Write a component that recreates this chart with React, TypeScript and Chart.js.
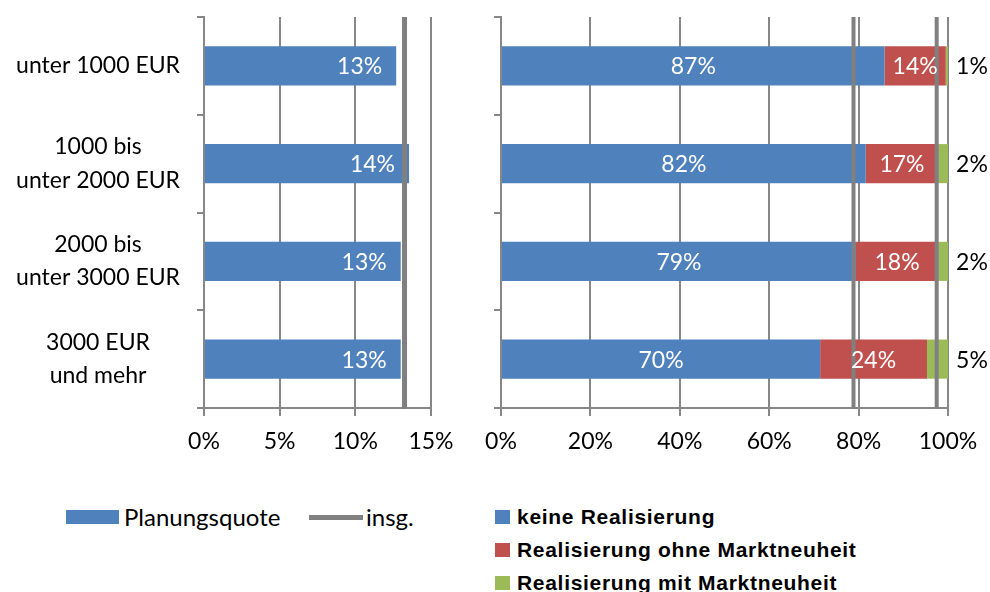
import React, { useEffect, useRef } from 'react';
import { Chart, registerables } from 'chart.js';

Chart.register(...registerables);

// ---- data ----
const categories = [
  ['unter 1000 EUR'],
  ['1000 bis', 'unter 2000 EUR'],
  ['2000 bis', 'unter 3000 EUR'],
  ['3000 EUR', 'und mehr'],
];
const planungsquote = [12.7, 13.55, 13.0, 13.0];
const planungsquoteLabels = ['13%', '14%', '13%', '13%'];
const insgPlanung = [13.25];

const keineRealisierung = [85.8, 81.6, 79.4, 71.4];
const ohneMarktneuheit = [13.7, 16.2, 18.4, 23.9];
const mitMarktneuheit = [0.5, 2.2, 2.2, 4.7];
const keineLabels = ['87%', '82%', '79%', '70%'];
const ohneLabels = ['14%', '17%', '18%', '24%'];
const mitLabels = ['1%', '2%', '2%', '5%'];
const insgRealisierung = [78.86, 97.47];

const leftAxis = { min: 0, max: 15, step: 5 };
const rightAxis = { min: 0, max: 100, step: 20 };

const BLUE = '#4F81BD';
const RED = '#C0504D';
const GREEN = '#9BBB59';
const LINE_GRAY = '#808080';
const GRID = '#878787';
const FONT = 'Lato';

const pct = (v: any) => v + '%';

function xScale(min: number, max: number, step: number) {
  return {
    type: 'linear',
    position: 'bottom',
    min,
    max,
    ticks: {
      stepSize: step,
      callback: pct,
      color: '#000',
      font: { family: FONT, size: 23 },
      padding: 12,
      maxRotation: 0,
    },
    grid: { color: GRID, lineWidth: 2, tickLength: 8 },
    border: { color: GRID, width: 2 },
    afterFit: (s: any) => {
      s.height = 62;
      s.paddingLeft = 0;
      s.paddingRight = 0;
    },
  };
}

function vLinesPlugin(values: number[], width: number) {
  return {
    id: 'insgLines',
    afterDatasetsDraw(chart: any) {
      const ctx = chart.ctx;
      const xs = chart.scales.x;
      const { top, bottom } = chart.chartArea;
      ctx.save();
      ctx.strokeStyle = LINE_GRAY;
      ctx.lineWidth = width;
      values.forEach((v) => {
        const px = xs.getPixelForValue(v);
        ctx.beginPath();
        ctx.moveTo(px, top);
        ctx.lineTo(px, bottom + 1);
        ctx.stroke();
      });
      ctx.restore();
    },
  };
}

function App() {
  const leftRef = useRef<HTMLCanvasElement | null>(null);
  const rightRef = useRef<HTMLCanvasElement | null>(null);

  useEffect(() => {
    const leftLabelsPlugin = {
      id: 'leftLabels',
      afterDatasetsDraw(chart: any) {
        const meta = chart.getDatasetMeta(0);
        const ctx = chart.ctx;
        ctx.save();
        ctx.font = `23px ${FONT}`;
        ctx.fillStyle = '#fff';
        ctx.textAlign = 'right';
        ctx.textBaseline = 'middle';
        meta.data.forEach((bar: any, i: number) => {
          ctx.fillText(planungsquoteLabels[i], bar.x - 14, bar.y + 1);
        });
        ctx.restore();
      },
    };

    const left = new Chart(leftRef.current as HTMLCanvasElement, {
      type: 'bar',
      data: {
        labels: categories as any,
        datasets: [
          {
            label: 'Planungsquote',
            data: planungsquote,
            backgroundColor: BLUE,
            barPercentage: 0.4,
            categoryPercentage: 1,
          },
        ],
      },
      options: {
        indexAxis: 'y',
        responsive: false,
        animation: false,
        layout: { padding: { left: 0, top: 17, right: 39, bottom: 0 } },
        plugins: { legend: { display: false }, tooltip: { enabled: false } },
        scales: {
          x: xScale(leftAxis.min, leftAxis.max, leftAxis.step) as any,
          y: {
            type: 'category',
            position: 'left',
            ticks: {
              color: '#000',
              font: { family: FONT, size: 23, lineHeight: 1.45 },
              crossAlign: 'center',
              padding: 17,
            },
            grid: { drawOnChartArea: false, color: GRID, lineWidth: 2, tickLength: 7, offset: true },
            border: { color: GRID, width: 2 },
            afterFit: (s: any) => {
              s.width = 204;
              s.paddingTop = 0;
              s.paddingBottom = 0;
            },
          } as any,
        },
      },
      plugins: [vLinesPlugin(insgPlanung, 5), leftLabelsPlugin],
    });

    const rightLabelsPlugin = {
      id: 'rightLabels',
      afterDatasetsDraw(chart: any) {
        const ctx = chart.ctx;
        ctx.save();
        ctx.font = `23px ${FONT}`;
        ctx.textBaseline = 'middle';
        ctx.textAlign = 'center';
        const m0 = chart.getDatasetMeta(0);
        const m1 = chart.getDatasetMeta(1);
        const m2 = chart.getDatasetMeta(2);
        ctx.fillStyle = '#fff';
        m0.data.forEach((bar: any, i: number) => {
          ctx.fillText(keineLabels[i], (bar.x + bar.base) / 2, bar.y + 1);
        });
        m1.data.forEach((bar: any, i: number) => {
          ctx.fillText(ohneLabels[i], (bar.x + bar.base) / 2, bar.y + 1);
        });
        ctx.fillStyle = '#000';
        m2.data.forEach((bar: any, i: number) => {
          ctx.fillText(mitLabels[i], chart.chartArea.right + 24, bar.y + 1);
        });
        ctx.restore();
      },
    };

    const barDs = (label: string, data: number[], color: string) => ({
      label,
      data,
      backgroundColor: color,
      stack: 'a',
      barPercentage: 0.4,
      categoryPercentage: 1,
    });

    const right = new Chart(rightRef.current as HTMLCanvasElement, {
      type: 'bar',
      data: {
        labels: categories as any,
        datasets: [
          barDs('keine Realisierung', keineRealisierung, BLUE),
          barDs('Realisierung ohne Marktneuheit', ohneMarktneuheit, RED),
          barDs('Realisierung mit Marktneuheit', mitMarktneuheit, GREEN),
        ],
      },
      options: {
        indexAxis: 'y',
        responsive: false,
        animation: false,
        layout: { padding: { left: 0, top: 17, right: 42, bottom: 0 } },
        plugins: { legend: { display: false }, tooltip: { enabled: false } },
        scales: {
          x: { ...(xScale(rightAxis.min, rightAxis.max, rightAxis.step) as any), stacked: true },
          y: {
            type: 'category',
            position: 'left',
            stacked: true,
            ticks: { callback: () => '', padding: 0 },
            grid: { drawOnChartArea: false, color: GRID, lineWidth: 2, tickLength: 7, offset: true },
            border: { color: GRID, width: 2 },
            afterFit: (s: any) => {
              s.width = 31;
              s.paddingTop = 0;
              s.paddingBottom = 0;
            },
          } as any,
        },
      },
      plugins: [vLinesPlugin(insgRealisierung, 4), rightLabelsPlugin],
    });

    return () => {
      left.destroy();
      right.destroy();
    };
  }, []);

  const legendText: React.CSSProperties = {
    position: 'absolute',
    fontFamily: FONT,
    fontSize: 24,
    color: '#000',
    lineHeight: '24px',
    whiteSpace: 'nowrap',
  };
  const rightLegendText: React.CSSProperties = {
    position: 'absolute',
    fontFamily: 'Liberation Sans, Arial, sans-serif',
    fontWeight: 'bold',
    fontSize: 21,
    letterSpacing: '0.7px',
    color: '#000',
    lineHeight: '24px',
    whiteSpace: 'nowrap',
  };
  const rightRows = [
    { label: 'keine Realisierung', color: BLUE, y: 517 },
    { label: 'Realisierung ohne Marktneuheit', color: RED, y: 550 },
    { label: 'Realisierung mit Marktneuheit', color: GREEN, y: 583 },
  ];

  return (
    <div
      style={{
        position: 'absolute',
        left: 0,
        top: 0,
        width: 990,
        height: 592,
        background: '#fff',
        overflow: 'hidden',
      }}
    >
      <canvas
        ref={leftRef}
        width={470}
        height={470}
        style={{ position: 'absolute', left: 0, top: 0, width: 470, height: 470 }}
      />
      <canvas
        ref={rightRef}
        width={520}
        height={470}
        style={{ position: 'absolute', left: 470, top: 0, width: 520, height: 470 }}
      />
      {/* left legend */}
      <div style={{ position: 'absolute', left: 66, top: 510, width: 53, height: 14, background: BLUE }} />
      <div style={{ ...legendText, left: 124, top: 517 - 12 }}>Planungsquote</div>
      <div style={{ position: 'absolute', left: 309, top: 515, width: 54, height: 5, background: LINE_GRAY }} />
      <div style={{ ...legendText, left: 366, top: 517 - 12 }}>insg.</div>
      {/* right legend */}
      {rightRows.map((r) => (
        <React.Fragment key={r.label}>
          <div
            style={{ position: 'absolute', left: 495, top: r.y - 7, width: 15, height: 14, background: r.color }}
          />
          <div style={{ ...rightLegendText, left: 517, top: r.y - 12 }}>{r.label}</div>
        </React.Fragment>
      ))}
    </div>
  );
}

export default App;
